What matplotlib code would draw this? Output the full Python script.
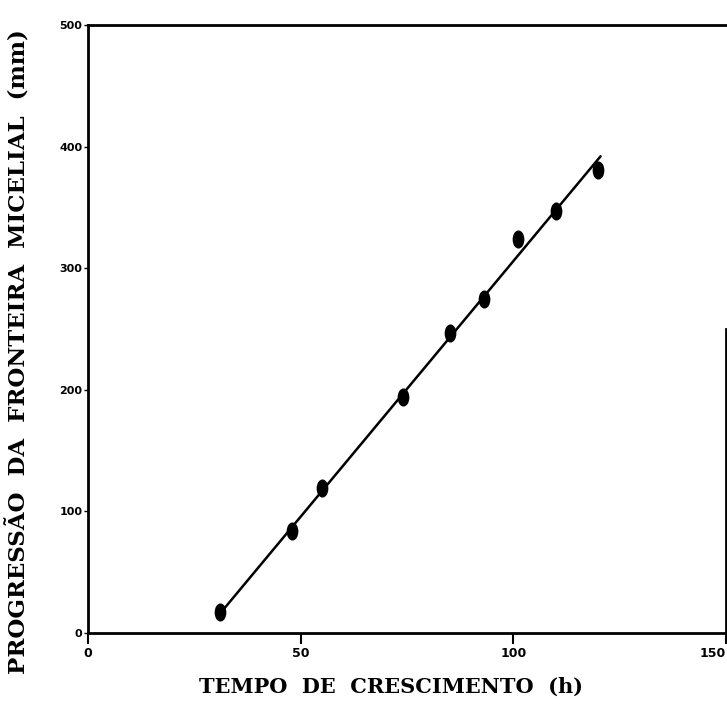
import matplotlib
matplotlib.use("Agg")
import matplotlib.pyplot as plt
from matplotlib.markers import MarkerStyle
from matplotlib.transforms import Affine2D

# Data
tempo_h = [31, 48, 55, 74, 85, 93, 101, 110, 120]
progressao_mm = [17, 84, 119, 194, 247, 275, 324, 347, 381]

# Fitted line endpoints (as drawn in the figure)
reta_x = [32, 120.5]
reta_y = [20, 392]

x_ticks = [0, 50, 100, 150]
y_ticks = [0, 100, 200, 300, 400, 500]

fig = plt.figure(figsize=(7.27, 7.09), dpi=100)
ax = fig.add_axes([88 / 727, 76 / 709, 638 / 727, 608 / 709])

ax.plot(reta_x, reta_y, color="black", lw=1.8, solid_capstyle="round")
mk = MarkerStyle("o", transform=Affine2D().scale(0.62, 1.0))
ax.plot(tempo_h, progressao_mm, linestyle="none", marker=mk, markersize=12,
        color="black")

ax.set_xlim(0, 150)
ax.set_ylim(0, 500)
ax.set_xticks(x_ticks)
ax.set_yticks(y_ticks)
ax.set_xticklabels([str(v) for v in x_ticks], fontsize=9, fontweight="bold",
                   family="DejaVu Sans")
ax.set_yticklabels([str(v) for v in y_ticks], fontsize=8, fontweight="bold",
                   family="DejaVu Sans")
ax.get_xticklabels()[-1].set_horizontalalignment("right")
ax.tick_params(axis="x", direction="out", length=8, width=1.5, pad=2)
ax.tick_params(axis="y", direction="out", length=3, width=1.0, pad=1)

for s in ["left", "bottom", "top", "right"]:
    ax.spines[s].set_linewidth(2.0)
ax.spines["right"].set_bounds(0, 250)

ax.set_xlabel("TEMPO  DE  CRESCIMENTO  (h)", fontsize=15, fontweight="bold",
              family="DejaVu Serif")
ax.xaxis.set_label_coords(0.475, -0.072)
ax.set_ylabel("PROGRESSÃO  DA  FRONTEIRA  MICELIAL  (mm)", fontsize=16.5,
              fontweight="bold", family="DejaVu Serif")
ax.yaxis.set_label_coords(-0.09, 0.462)

fig.savefig("out.png", dpi=100)
